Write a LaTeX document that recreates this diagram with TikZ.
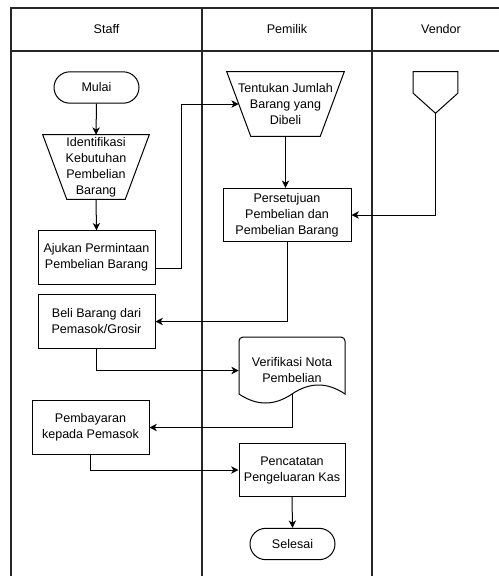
\documentclass[tikz,border=0pt]{standalone}
\usepackage{fontspec}
\setmainfont{Liberation Sans}
\usetikzlibrary{arrows.meta,calc}
\begin{document}
\begin{tikzpicture}[x=0.75pt,y=-0.75pt,
  every node/.style={font=\fontsize{9.4}{12}\selectfont, align=center, inner sep=0pt},
  lane/.style={line width=1pt, draw=black!85},
  shp/.style={draw, line width=0.75pt},
  proc/.style={shp, minimum width=#1, minimum height=40pt},
  term/.style={shp, rounded corners=11.8pt, minimum width=63.75pt, minimum height=23.5pt},
  ghost/.style={minimum width=#1, minimum height=48pt},
  arr/.style={line width=0.75pt, -{Stealth[length=5.5pt,width=5.5pt,inset=1.6pt]}}
]
\useasboundingbox (0,0) rectangle (499,576);
\clip (0,0) rectangle (499,576);
\fill[white] (0,0) rectangle (499,576);

% swimlanes
\draw[lane] (11,580) -- (11,8) -- (530,8);
\draw[lane] (11,51) -- (530,51);
\draw[lane] (202,8) -- (202,580);
\draw[lane] (372,8) -- (372,580);
\node (hstaff) at (106.5,29.5) {Staff};
\node (hpem) at (287,29.5) {Pemilik};
\node (hven) at (441,29.5) {Vendor};

% Staff lane
\node[term] (mulai) at (96.5,87.5) {Mulai};
\node[ghost=79.5pt] (ident) at (96,167) {Identifikasi\\Kebutuhan\\Pembelian\\Barang};
\draw[shp] (ident.north west) -- (ident.north east) -- ([xshift=-18pt]ident.south east) -- ([xshift=18pt]ident.south west) -- cycle;
\node[proc=87.75pt] (ajukan) at (96.5,257.5) {Ajukan Permintaan\\Pembelian Barang};
\node[proc=87.75pt] (beli) at (96.5,321.5) {Beli Barang dari\\Pemasok/Grosir};
\node[proc=87.75pt] (pemb) at (90.5,427.5) {Pembayaran\\kepada Pemasok};

% Pemilik lane
\node[ghost=87.75pt] (tent) at (285.5,104) {Tentukan Jumlah\\Barang yang\\Dibeli};
\draw[shp] (tent.north west) -- (tent.north east) -- ([xshift=-18pt]tent.south east) -- ([xshift=18pt]tent.south west) -- cycle;
\coordinate (tentL) at ($(tent.north west)!0.5!([xshift=18pt]tent.south west)$);
\node[proc=96pt] (pers) at (287,215) {Persetujuan\\Pembelian dan\\Pembelian Barang};
\node[minimum width=79.5pt, minimum height=50.25pt] (verif) at (292,370.5) {Verifikasi Nota\\Pembelian};
\draw[shp] (239,394) [rounded corners=3pt] -- (239,337) -- (345,337) [sharp corners] -- (345,394)
  .. controls (327.3,382) and (309.7,382) .. (292,394)
  .. controls (274.3,406) and (256.7,406) .. (239,394) -- cycle;
\coordinate (vout) at (292,394);
\node[proc=79.5pt] (penc) at (292,470) {Pencatatan\\Pengeluaran Kas};
\node[term] (selesai) at (292.5,544) {Selesai};

% Vendor lane
\node[minimum width=33pt, minimum height=30.75pt] (vend) at (435.5,92.5) {};
\draw[shp] (vend.north west) -- (vend.north east) -- ([yshift=15pt]vend.south east) -- (vend.south) -- ([yshift=15pt]vend.south west) -- cycle;

% connectors
\draw[arr] (mulai.south) -- (ident.north);
\draw[arr] (ident.south) -- (ajukan.north);
\draw[arr] ([yshift=-7.875pt]ajukan.east) -- ++(26,0) |- (tentL);
\draw[arr] (tent.south) -- (tent.south |- pers.north);
\draw[arr] (vend.south) |- (pers.east);
\draw[arr] (pers.south) |- (beli.east);
\draw[arr] (beli.south) |- (verif.west);
\draw[arr] (vout) |- (pemb.east);
\draw[arr] (pemb.south) |- (penc.west);
\draw[arr] (penc.south) -- (selesai.north);
\end{tikzpicture}
\end{document}
